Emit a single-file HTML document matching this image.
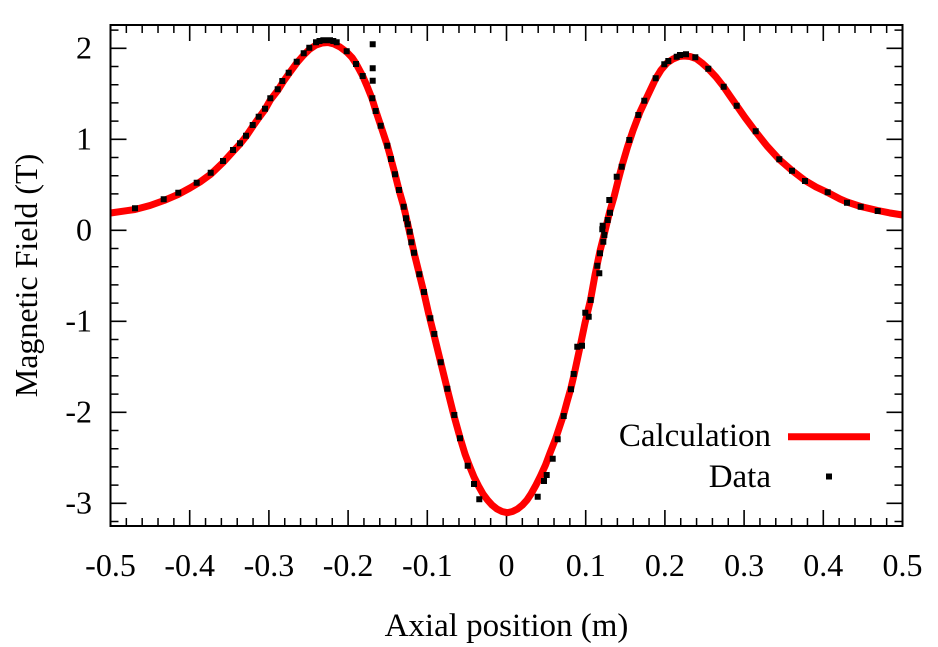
<!DOCTYPE html>
<html>
<head>
<meta charset="utf-8">
<style>
html,body{margin:0;padding:0;background:#fff;}
svg{display:block;}
text{font-family:"Liberation Serif","Times New Roman",serif;fill:#000;}
</style>
</head>
<body>
<svg width="938" height="647" viewBox="0 0 938 647" xmlns="http://www.w3.org/2000/svg">
<rect x="0" y="0" width="938" height="647" fill="#fff"/>
<path fill="none" stroke="#000" stroke-width="1.5" d="M126.34 526v-8M142.18 526v-8M158.02 526v-8M173.86 526v-8M205.54 526v-8M221.38 526v-8M237.22 526v-8M253.06 526v-8M284.74 526v-8M300.58 526v-8M316.42 526v-8M332.26 526v-8M363.94 526v-8M379.78 526v-8M395.62 526v-8M411.46 526v-8M443.14 526v-8M458.98 526v-8M474.82 526v-8M490.66 526v-8M522.34 526v-8M538.18 526v-8M554.02 526v-8M569.86 526v-8M601.54 526v-8M617.38 526v-8M633.22 526v-8M649.06 526v-8M680.74 526v-8M696.58 526v-8M712.42 526v-8M728.26 526v-8M759.94 526v-8M775.78 526v-8M791.62 526v-8M807.46 526v-8M839.14 526v-8M854.98 526v-8M870.82 526v-8M886.66 526v-8M126.34 25v8M142.18 25v8M158.02 25v8M173.86 25v8M205.54 25v8M221.38 25v8M237.22 25v8M253.06 25v8M284.74 25v8M300.58 25v8M316.42 25v8M332.26 25v8M363.94 25v8M379.78 25v8M395.62 25v8M411.46 25v8M443.14 25v8M458.98 25v8M474.82 25v8M490.66 25v8M522.34 25v8M538.18 25v8M554.02 25v8M569.86 25v8M601.54 25v8M617.38 25v8M633.22 25v8M649.06 25v8M680.74 25v8M696.58 25v8M712.42 25v8M728.26 25v8M759.94 25v8M775.78 25v8M791.62 25v8M807.46 25v8M839.14 25v8M854.98 25v8M870.82 25v8M886.66 25v8M110.5 30.1h8M110.5 66.5h8M110.5 84.7h8M110.5 102.9h8M110.5 121.1h8M110.5 157.5h8M110.5 175.7h8M110.5 193.9h8M110.5 212.1h8M110.5 248.5h8M110.5 266.7h8M110.5 284.9h8M110.5 303.1h8M110.5 339.5h8M110.5 357.7h8M110.5 375.9h8M110.5 394.1h8M110.5 430.5h8M110.5 448.7h8M110.5 466.9h8M110.5 485.1h8M110.5 521.5h8M902.5 30.1h-8M902.5 66.5h-8M902.5 84.7h-8M902.5 102.9h-8M902.5 121.1h-8M902.5 157.5h-8M902.5 175.7h-8M902.5 193.9h-8M902.5 212.1h-8M902.5 248.5h-8M902.5 266.7h-8M902.5 284.9h-8M902.5 303.1h-8M902.5 339.5h-8M902.5 357.7h-8M902.5 375.9h-8M902.5 394.1h-8M902.5 430.5h-8M902.5 448.7h-8M902.5 466.9h-8M902.5 485.1h-8M902.5 521.5h-8"/>
<path fill="none" stroke="#000" stroke-width="1.6" d="M189.7 526v-16M268.9 526v-16M348.1 526v-16M427.3 526v-16M506.5 526v-16M585.7 526v-16M664.9 526v-16M744.1 526v-16M823.3 526v-16M189.7 25v16M268.9 25v16M348.1 25v16M427.3 25v16M506.5 25v16M585.7 25v16M664.9 25v16M744.1 25v16M823.3 25v16M110.5 48.3h16M110.5 139.3h16M110.5 230.3h16M110.5 321.3h16M110.5 412.3h16M110.5 503.3h16M902.5 48.3h-16M902.5 139.3h-16M902.5 230.3h-16M902.5 321.3h-16M902.5 412.3h-16M902.5 503.3h-16"/>
<polyline fill="none" stroke="#ff0000" stroke-width="7" stroke-linejoin="round" points="110.5,213 135,209.5 150,205.5 164,200.5 178,194.5 190,188 200,182 211,174 223,162.5 233,151.5 240,144 246,136.5 252.7,126.5 258.7,118 265,109.5 270.3,100 277.7,90.5 283,82 289,73.5 296.7,63 303.7,55 309.3,49.5 316,45 322,43 328,42.5 334,44 340,47 346.7,52 352,57.5 356,63.5 362.7,76 367,86 372,98.5 375.7,110.5 380.7,125.5 387.3,145.5 391,159 395,174 399,190 403.7,206.5 407.7,224 411.3,240 414,252.5 419.3,274 424,293 428.5,313 434,335 440.5,361.5 447,388 453.5,414 460,437.5 465,454 469.5,466 474,477 478.5,486 483,494 487.5,500 492,505 497,509 502,511.5 507.3,512.7 512.5,511.5 517.5,509 522.5,505 527,500 531,494 536,485 540.5,476 545.5,465 550,453 555.5,439 559.5,427 563.5,415 567,402 570.7,389 574,375 577,361 580,347 585,323 590.5,300 595,275 600,251 605,231 609.5,212.5 614,197 618,181 622.5,164 627.5,147 633,130.5 640,112 647,97 655.5,79 661,70 667,63 673,59 679,56.5 684,56 690,56.5 696,58.5 702,63 708.3,68.7 716,77 723.5,86.5 730,96 737,106 745,117.5 755.5,131.5 767,146 779.3,159.5 792,170.5 805,180.5 816,187 827.7,192.5 840,199 847,202 860.7,206.5 877.7,210.5 890,213 902.5,215"/>
<path fill="#000" d="M132 205.3h6v6h-6zM160.7 196.3h6v6h-6zM175.3 189.7h6v6h-6zM193.7 179.7h6v6h-6zM207.7 169.7h6v6h-6zM220 158h6v6h-6zM230 147h6v6h-6zM237 140.3h6v6h-6zM243 132.7h6v6h-6zM249.7 122h6v6h-6zM255.7 113.7h6v6h-6zM262 105.7h6v6h-6zM267.3 95.3h6v6h-6zM274.7 86.3h6v6h-6zM279.3 78h6v6h-6zM285.7 69.7h6v6h-6zM293.7 58.7h6v6h-6zM300.7 50.3h6v6h-6zM306.3 44.7h6v6h-6zM313 39.3h6v6h-6zM316.5 38h6v6h-6zM320.3 37.3h6v6h-6zM323.7 37.3h6v6h-6zM327 37.3h6v6h-6zM330.3 38h6v6h-6zM333.7 39.3h6v6h-6zM343.7 48.3h6v6h-6zM353 61h6v6h-6zM359.7 73h6v6h-6zM369.7 41.3h6v6h-6zM369.7 65.3h6v6h-6zM369.7 77.7h6v6h-6zM369.3 95.3h6v6h-6zM372.7 108h6v6h-6zM377.7 122.7h6v6h-6zM384.3 142.7h6v6h-6zM388 156h6v6h-6zM392 171.3h6v6h-6zM396 187h6v6h-6zM400.7 203.7h6v6h-6zM403 215.3h6v6h-6zM404.7 221.3h6v6h-6zM406.7 228.7h6v6h-6zM408.3 239.3h6v6h-6zM411 249.7h6v6h-6zM416.3 271.3h6v6h-6zM421 289h6v6h-6zM427.3 315.3h6v6h-6zM431.3 331h6v6h-6zM437.7 359.3h6v6h-6zM444.3 385.7h6v6h-6zM451.3 412h6v6h-6zM457 435.3h6v6h-6zM464.7 462.7h6v6h-6zM471 481h6v6h-6zM476.3 496.3h6v6h-6zM534.7 493.7h6v6h-6zM541 478h6v6h-6zM543.7 472h6v6h-6zM549.7 455.7h6v6h-6zM554.7 436.3h6v6h-6zM560.7 413h6v6h-6zM568 386.3h6v6h-6zM570.7 371h6v6h-6zM574.3 343.7h6v6h-6zM579 342.7h6v6h-6zM582.3 309.7h6v6h-6zM585.7 313.7h6v6h-6zM587.7 297h6v6h-6zM594.3 262.7h6v6h-6zM596.3 270.3h6v6h-6zM597 250.3h6v6h-6zM600.3 238.7h6v6h-6zM601.3 232h6v6h-6zM599.3 226.3h6v6h-6zM599.7 222.7h6v6h-6zM604.7 217h6v6h-6zM607 209.7h6v6h-6zM606.3 197h6v6h-6zM613.7 173.7h6v6h-6zM618.7 163.7h6v6h-6zM626.3 137h6v6h-6zM635.3 112h6v6h-6zM641.3 97.7h6v6h-6zM652.7 75.3h6v6h-6zM661.3 61.3h6v6h-6zM665.3 58h6v6h-6zM673.7 53.7h6v6h-6zM677 52h6v6h-6zM683 51.3h6v6h-6zM692.3 54.3h6v6h-6zM705.3 65.7h6v6h-6zM720.7 83.7h6v6h-6zM733.7 102.7h6v6h-6zM752.7 128.3h6v6h-6zM776.3 156.3h6v6h-6zM789 167.7h6v6h-6zM802 178h6v6h-6zM824.7 189.3h6v6h-6zM844 199.7h6v6h-6zM857.7 203.7h6v6h-6zM874.7 208h6v6h-6z"/>
<rect x="110.5" y="25" width="792" height="501" fill="none" stroke="#000" stroke-width="2"/>
<g font-size="32" text-anchor="end">
<text x="92" y="58.5">2</text>
<text x="92" y="149.5">1</text>
<text x="92" y="240.5">0</text>
<text x="92" y="331.5">-1</text>
<text x="92" y="422.5">-2</text>
<text x="92" y="513.5">-3</text>
</g>
<g font-size="32" text-anchor="middle">
<text x="110.5" y="576">-0.5</text>
<text x="189.7" y="576">-0.4</text>
<text x="268.9" y="576">-0.3</text>
<text x="348.1" y="576">-0.2</text>
<text x="427.3" y="576">-0.1</text>
<text x="506.5" y="576">0</text>
<text x="585.7" y="576">0.1</text>
<text x="664.9" y="576">0.2</text>
<text x="744.1" y="576">0.3</text>
<text x="823.3" y="576">0.4</text>
<text x="902.5" y="576">0.5</text>
</g>
<text x="506.5" y="636" font-size="33" text-anchor="middle">Axial position (m)</text>
<text transform="translate(37,275.5) rotate(-90)" font-size="32" text-anchor="middle">Magnetic Field (T)</text>
<g font-size="33" text-anchor="end">
<text x="771" y="446">Calculation</text>
<text x="771" y="487">Data</text>
</g>
<line x1="788" y1="436.7" x2="870" y2="436.7" stroke="#ff0000" stroke-width="7"/>
<rect x="826" y="473.5" width="6" height="6" fill="#000"/>
</svg>
</body>
</html>
